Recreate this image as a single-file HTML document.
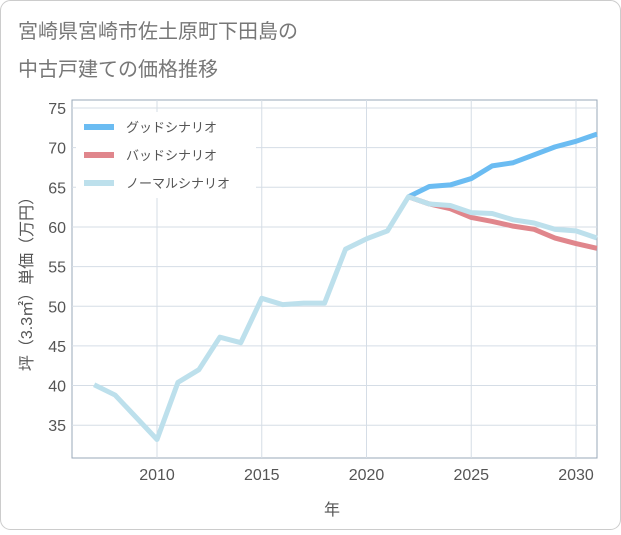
<!DOCTYPE html>
<html><head><meta charset="utf-8"><style>
body{margin:0;background:#fff;font-family:"Liberation Sans","Noto Sans CJK JP",sans-serif;}
svg text{font-family:"Liberation Sans","Noto Sans CJK JP",sans-serif;}
</style></head><body>
<svg id="chart" width="621" height="530">
<rect x="0.5" y="0.5" width="620" height="529" rx="10" fill="#fff" stroke="#ccc"/>
<text x="18" y="38" font-size="20" fill="#777">宮崎県宮崎市佐土原町下田島の</text>
<text x="18" y="76" font-size="20" fill="#777">中古戸建ての価格推移</text>
<g id="grid"></g><g id="series"></g><g id="legend"></g>
<text x="332" y="515" font-size="16" fill="#555" text-anchor="middle">年</text>
<text transform="translate(32,280) rotate(-90)" font-size="16" fill="#555" text-anchor="middle">坪（3.3㎡）単価（万円）</text>
</svg>
<script>
const years=[2007,2008,2009,2010,2011,2012,2013,2014,2015,2016,2017,2018,2019,2020,2021,2022,2023,2024,2025,2026,2027,2028,2029,2030,2031];
const normalVals=[40.1,38.8,36,33.2,40.4,42,46.1,45.4,51,50.2,50.4,50.4,57.2,58.5,59.5,63.8,62.9,62.7,61.8,61.7,60.9,60.5,59.7,59.5,58.6];
const futureYears=[2022,2023,2024,2025,2026,2027,2028,2029,2030,2031];
const goodVals=[63.8,65.1,65.3,66.1,67.7,68.1,69.1,70.1,70.8,71.7];
const badVals=[63.8,62.9,62.3,61.2,60.7,60.1,59.7,58.6,57.9,57.3];
const xTicks=[2010,2015,2020,2025,2030];
const yTicks=[35,40,45,50,55,60,65,70,75];
const legendLabels=["グッドシナリオ","バッドシナリオ","ノーマルシナリオ"];
const NS="http://www.w3.org/2000/svg";
const L=72,R=597,T=100,B=458;
const X=y=>157+(y-2010)*20.95;
const Y=v=>108+(75-v)*7.93;
function mk(t,a,p){const e=document.createElementNS(NS,t);for(const k in a)e.setAttribute(k,a[k]);p.appendChild(e);return e;}
const g=document.getElementById('grid');
mk('rect',{x:L,y:T,width:R-L,height:B-T,fill:'none',stroke:'#9aa8b8'},g);
yTicks.forEach(v=>{const l=mk('line',{x1:L,x2:R,y1:Y(v),y2:Y(v),stroke:'#d5dde6'},g);


const t=mk('text',{x:L-6,y:Y(v)+6,'font-size':16,fill:'#555','text-anchor':'end'},g);t.textContent=v;

});
xTicks.forEach(v=>{const l=mk('line',{x1:X(v),x2:X(v),y1:T,y2:B,stroke:'#d5dde6'},g);


const t=mk('text',{x:X(v),y:B+22,'font-size':16,fill:'#555','text-anchor':'middle'},g);t.textContent=v;

});
const s=document.getElementById('series');
function line(xs,vs,c,name){const p=mk('polyline',{points:xs.map((x,i)=>X(x)+','+Y(vs[i])).join(' '),fill:'none',stroke:c,'stroke-width':5,'stroke-linejoin':'round'},s);

}
line(futureYears,goodVals,'#6bbcf2','good-scenario-line');
line(futureYears,badVals,'#e0868c','bad-scenario-line');
line(years,normalVals,'#bde0ec','normal-scenario-line');
const lg=document.getElementById('legend');
const cols=['#6bbcf2','#e0868c','#bde0ec'];
const bg=mk('rect',{x:76,y:112,width:180,height:86,fill:'#fff'},lg);


legendLabels.forEach((lab,i)=>{const y=127+i*28;
const sw=mk('line',{x1:84,x2:114,y1:y,y2:y,stroke:cols[i],'stroke-width':6},lg);


const t=mk('text',{x:126,y:y+5,'font-size':13,fill:'#555'},lg);t.textContent=lab;

});
</script>
</body></html>
